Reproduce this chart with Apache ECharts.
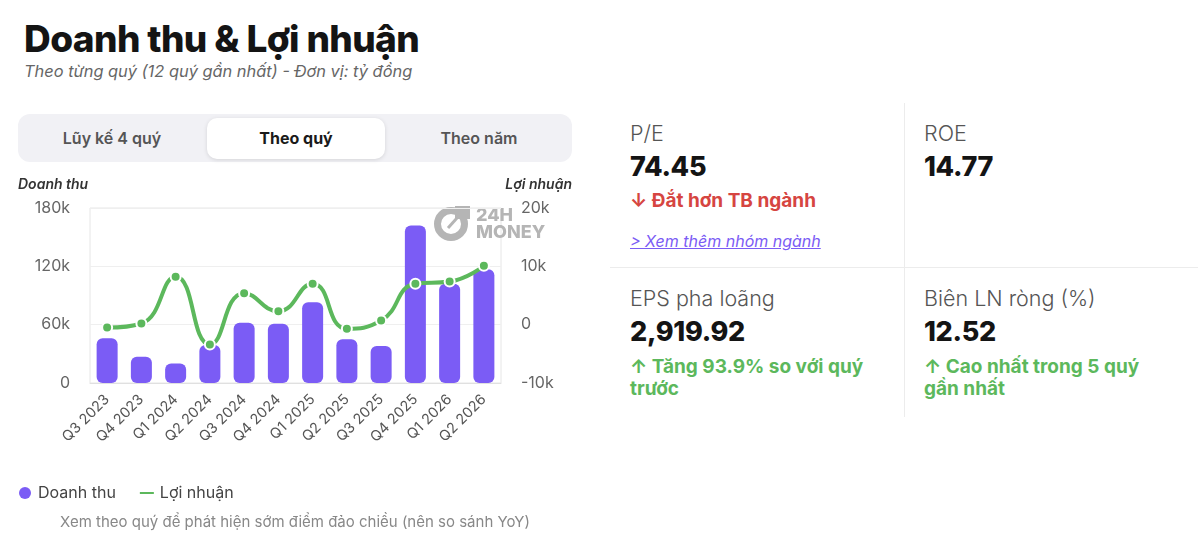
<!DOCTYPE html>
<html>
<head>
<meta charset="utf-8">
<script src="https://cdn.jsdelivr.net/npm/echarts@6/dist/echarts.min.js"></script>
<style>
  html, body { margin: 0; padding: 0; background: #fff; }
  body { width: 1200px; height: 547px; position: relative; overflow: hidden; font-family: Inter, "Noto Sans", sans-serif; }
  .abs { position: absolute; white-space: nowrap; }
  #title { left: 24px; top: 16px; font-size: 37px; font-weight: 800; color: #141414; letter-spacing: -0.6px; line-height: 46px; }
  #sub { left: 24px; top: 60px; font-size: 16.4px; font-style: italic; color: #666; line-height: 22px; }
  #tabs { left: 18px; top: 114px; width: 554px; height: 48px; background: #f1f1f5; border-radius: 12px; }
  .tab { position: absolute; top: 4px; height: 41px; line-height: 41px; text-align: center; font-size: 16px; font-weight: 600; color: #555; }
  .tab.active { background: #fff; border-radius: 10px; box-shadow: 0 1px 4px rgba(0,0,0,0.12); color: #1a1a1a; font-weight: 700; }
  #chart { position: absolute; left: 0; top: 170px; width: 600px; height: 377px; }
  #note { left: 18px; width: 554px; top: 512px; text-align: center; font-size: 15px; color: #888; line-height: 20px; }
  .vdiv { position: absolute; left: 904px; top: 103px; width: 1px; height: 314px; background: #ececec; }
  .hdiv { position: absolute; left: 610px; top: 267px; width: 588px; height: 1px; background: #ececec; }
  .cell { position: absolute; width: 254px; }
  .lbl { font-size: 21.5px; color: #555; font-weight: 300; line-height: 26px; }
  .val { font-size: 27px; color: #141414; font-weight: 800; line-height: 42px; letter-spacing: -0.3px; }
  .red { font-size: 19px; color: #d64541; font-weight: 700; line-height: 24px; margin-top: 1px; }
  .green { font-size: 19px; color: #5cb85c; font-weight: 700; line-height: 22px; margin-top: 3px; white-space: normal; }
  .link { font-size: 16px; color: #7b5cf5; font-style: italic; text-decoration: underline; line-height: 20px; margin-top: 18px; }
</style>
</head>
<body>
<div id="title" class="abs">Doanh thu &amp; Lợi nhuận</div>
<div id="sub" class="abs">Theo từng quý (12 quý gần nhất) - Đơn vị: tỷ đồng</div>
<div id="tabs" class="abs">
  <div class="tab" style="left:4px;width:180px;">Lũy kế 4 quý</div>
  <div class="tab active" style="left:189px;width:178px;">Theo quý</div>
  <div class="tab" style="left:372px;width:178px;">Theo năm</div>
</div>
<div id="chart"></div>
<div id="note" class="abs">Xem theo quý để phát hiện sớm điểm đảo chiều (nên so sánh YoY)</div>

<div class="vdiv"></div>
<div class="hdiv"></div>
<div class="cell" style="left:630px;top:120px;">
  <div class="lbl">P/E</div>
  <div class="val">74.45</div>
  <div class="red">↓ Đắt hơn TB ngành</div>
  <div class="link">&gt; Xem thêm nhóm ngành</div>
</div>
<div class="cell" style="left:924px;top:120px;">
  <div class="lbl">ROE</div>
  <div class="val">14.77</div>
</div>
<div class="cell" style="left:630px;top:285px;">
  <div class="lbl">EPS pha loãng</div>
  <div class="val">2,919.92</div>
  <div class="green">↑ Tăng 93.9% so với quý trước</div>
</div>
<div class="cell" style="left:924px;top:285px;">
  <div class="lbl">Biên LN ròng (%)</div>
  <div class="val">12.52</div>
  <div class="green">↑ Cao nhất trong 5 quý gần nhất</div>
</div>

<script>
const categories = ['Q3 2023','Q4 2023','Q1 2024','Q2 2024','Q3 2024','Q4 2024','Q1 2025','Q2 2025','Q3 2025','Q4 2025','Q1 2026','Q2 2026'];
const revenue = [46000, 27000, 20000, 39000, 62000, 61000, 83000, 45000, 38000, 162000, 102000, 117000];
const profit = [-500, 200, 8200, -3400, 5400, 2300, 7000, -700, 700, 7000, 7400, 10100];
const revenueName = 'Doanh thu';
const profitName = 'Lợi nhuận';

const purple = '#7b5cf5';
const green = '#5cb85c';
const kfmt = v => v === 0 ? '0' : (v / 1000) + 'k';

const chart = echarts.init(document.getElementById('chart'), null, { renderer: 'canvas' });
chart.setOption({
  animation: false,
  textStyle: { fontFamily: 'Inter, "Noto Sans", sans-serif' },
  grid: { left: 90, top: 38, width: 411, height: 175, show: true, borderColor: '#e6e6e6', borderWidth: 1, backgroundColor: 'transparent' },
  legend: {
    left: 14, top: 310, itemWidth: 16, itemHeight: 12, itemGap: 22,
    textStyle: { fontSize: 16, color: '#444' },
    data: [
      { name: revenueName, icon: 'circle' },
      { name: profitName, icon: 'path://M0,0H16V4H0Z', itemStyle: { color: green } }
    ]
  },
  graphic: [
    { type: 'text', left: 18, top: 8, style: { text: 'Doanh thu', font: 'italic 600 14px Inter, sans-serif', fill: '#333' } },
    { type: 'text', right: 28, top: 8, style: { text: 'Lợi nhuận', font: 'italic 600 14px Inter, sans-serif', fill: '#333' } },
    { type: 'group', left: 434, top: 36, z: 0, children: [
      { type: 'circle', shape: { cx: 17, cy: 18, r: 13.5 }, style: { fill: 'none', stroke: '#b5b5b5', lineWidth: 7 } },
      { type: 'rect', shape: { x: 21, y: 0, width: 15, height: 13 }, style: { fill: '#b5b5b5' } },
      { type: 'line', shape: { x1: 14, y1: 22, x2: 23, y2: 12 }, style: { stroke: '#b5b5b5', lineWidth: 3 } },
      { type: 'text', x: 42, y: 1, style: { text: '24H', font: '800 18px Inter, sans-serif', fill: '#b5b5b5' } },
      { type: 'text', x: 42, y: 18, style: { text: 'MONEY', font: '800 18px Inter, sans-serif', fill: '#b5b5b5' } }
    ] }
  ],
  xAxis: {
    type: 'category', data: categories,
    axisLine: { show: true, lineStyle: { color: '#e0e0e0' } },
    axisTick: { show: false },
    axisLabel: { rotate: 45, fontSize: 14.5, color: '#555', margin: 14, interval: 0 }
  },
  yAxis: [
    { type: 'value', min: 0, max: 180000, interval: 60000,
      axisLabel: { formatter: kfmt, fontSize: 16, color: '#666', margin: 20 },
      splitLine: { lineStyle: { color: '#efefef' } }, axisLine: { show: false }, axisTick: { show: false } },
    { type: 'value', min: -10000, max: 20000, interval: 10000,
      axisLabel: { formatter: kfmt, fontSize: 16, color: '#666', margin: 20 },
      splitLine: { show: false }, axisLine: { show: false }, axisTick: { show: false } }
  ],
  series: [
    { name: revenueName, type: 'bar', data: revenue, yAxisIndex: 0, barWidth: 21,
      itemStyle: { color: purple, borderRadius: 6 }, z: 2 },
    { name: profitName, type: 'line', data: profit, yAxisIndex: 1, smooth: true,
      lineStyle: { color: green, width: 4 }, symbol: 'circle', symbolSize: 10,
      itemStyle: { color: green, borderColor: '#fff', borderWidth: 2 }, z: 3 }
  ]
});
</script>
</body>
</html>
